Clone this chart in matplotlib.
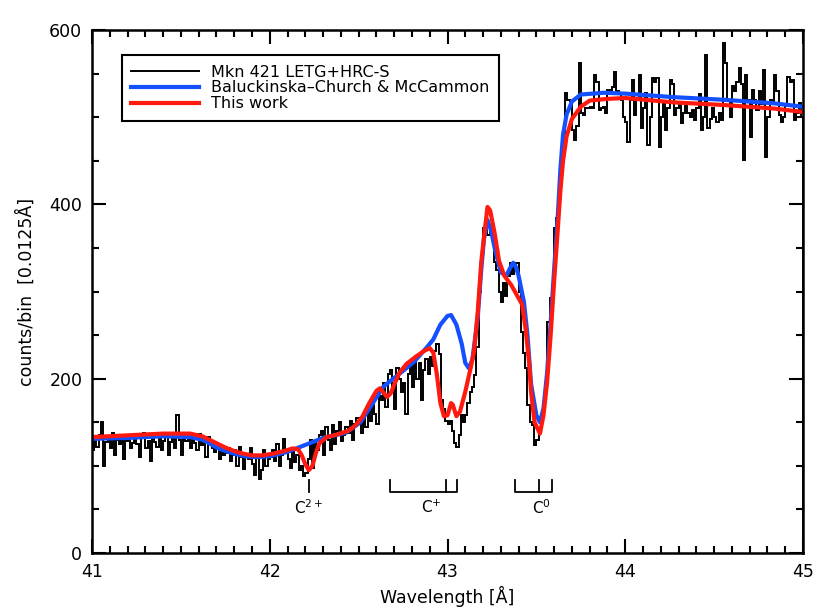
import numpy as np
import matplotlib
matplotlib.use("Agg")
import matplotlib.pyplot as plt
from matplotlib.ticker import MultipleLocator

# ---------------- data ----------------
bin_start = 41.0
bin_width = 0.0125

counts = [
    # 41.00 - 41.25
    118, 128, 122, 135, 150, 100, 127, 132, 120, 138, 112, 130, 125, 135, 108, 128, 133, 120, 126, 131,
    # 41.25 - 41.50
    125, 110, 133, 138, 120, 128, 105, 131, 127, 122, 136, 118, 129, 133, 112, 127, 135, 121, 158, 130,
    # 41.50 - 41.75
    112, 135, 128, 138, 120, 133, 126, 118, 137, 124, 130, 110, 133, 127, 120, 116, 122, 108, 118, 112,
    # 41.75 - 42.00
    115, 120, 105, 112, 118, 100, 122, 110, 96, 114, 108, 120, 102, 90, 112, 85, 95, 118, 100, 108,
    # 42.00 - 42.25
    110, 118, 105, 125, 100, 112, 131, 115, 108, 98, 120, 104, 112, 95, 100, 88, 92, 108, 130, 97,
    # 42.25 - 42.50
    128, 118, 135, 140, 112, 145, 130, 118, 147, 125, 140, 150, 128, 135, 145, 138, 152, 130, 148, 155,
    # 42.50 - 42.75
    150, 138, 160, 145, 165, 152, 170, 160, 148, 180, 175, 195, 168, 205, 210, 190, 165, 212, 200, 185,
    # 42.75 - 43.00
    195, 160, 205, 215, 190, 220, 200, 218, 175, 210, 222, 205, 225, 215, 232, 240, 228, 175, 165, 152,
    # 43.00 - 43.25
    148, 152, 140, 126, 122, 135, 158, 150, 158, 172, 185, 190, 204, 236, 300, 340, 373, 382, 365, 375,
    # 43.25 - 43.50
    362, 334, 325, 300, 288, 310, 295, 318, 333, 320, 330, 333, 300, 253, 230, 212, 170, 150, 147, 124,
    # 43.50 - 43.75
    130, 143, 150, 165, 195, 265, 293, 300, 373, 384, 420, 449, 468, 528, 520, 518, 485, 474, 490, 562,
    # 43.75 - 45.00
    505, 502, 510, 510, 512, 510, 548, 540, 508, 510, 512, 505, 531, 528, 535, 552, 530, 528, 520, 500,
    495, 471, 520, 543, 502, 520, 548, 488, 510, 528, 468, 500, 545, 540, 545, 466, 500, 516, 485, 510,
    543, 538, 502, 510, 516, 493, 505, 513, 505, 500, 508, 497, 510, 527, 485, 500, 571, 488, 498, 510,
    500, 494, 505, 497, 585, 562, 520, 500, 536, 530, 540, 556, 538, 451, 548, 520, 477, 531, 520, 508,
    530, 515, 554, 454, 500, 520, 515, 548, 530, 502, 494, 500, 513, 546, 540, 543, 497, 505, 516, 500,
]

bcm_wave = [41.0, 41.2, 41.4, 41.55, 41.62, 41.66, 41.7, 41.75, 41.8, 41.86, 41.92, 42.0, 42.1,
            42.2, 42.3, 42.43, 42.51, 42.58, 42.64, 42.72, 42.81, 42.88, 42.92, 42.96, 43.0,
            43.02, 43.05, 43.08, 43.1, 43.12, 43.14, 43.17, 43.19, 43.205, 43.225, 43.245,
            43.265, 43.3, 43.33, 43.36, 43.37, 43.385, 43.4, 43.43, 43.45, 43.47, 43.5, 43.52,
            43.54, 43.56, 43.58, 43.6, 43.62, 43.635, 43.65, 43.67, 43.7, 43.75, 43.88, 44.0,
            44.27, 44.55, 44.83, 45.0]
bcm_counts = [131, 132, 134, 133, 130, 126, 121, 117, 114, 111, 110, 111, 116,
              124, 132, 138, 150, 172, 191, 204, 219, 235, 245, 262, 272,
              273, 262, 240, 218, 212, 222, 270, 325, 360, 382, 370,
              350, 322, 318, 330, 333, 328, 318, 288, 250, 194, 158, 150,
              166, 206, 263, 326, 385, 440, 480, 503, 518, 526, 528, 527,
              523, 520, 516, 512]

tw_wave = [41.0, 41.2, 41.4, 41.55, 41.62, 41.66, 41.7, 41.75, 41.8, 41.85, 41.9, 41.96, 42.02,
           42.08, 42.13, 42.16, 42.18, 42.2, 42.22, 42.24, 42.26, 42.28, 42.32, 42.38, 42.44,
           42.48, 42.52, 42.56, 42.6, 42.62, 42.64, 42.66, 42.68, 42.7, 42.73, 42.77, 42.82,
           42.87, 42.9, 42.92, 42.94, 42.96, 42.98, 43.0, 43.02, 43.03, 43.05, 43.07, 43.1,
           43.13, 43.15, 43.17, 43.19, 43.205, 43.225, 43.24, 43.265, 43.29, 43.32, 43.36,
           43.39, 43.42, 43.44, 43.46, 43.47, 43.49, 43.52, 43.54, 43.56, 43.58, 43.6, 43.62,
           43.635, 43.65, 43.67, 43.7, 43.75, 43.8, 43.9, 44.0, 44.27, 44.55, 44.83, 45.0]
tw_counts = [133, 135, 137, 137, 134, 130, 126, 121, 117, 114, 112, 112, 114,
             117, 120, 119, 112, 102, 95, 100, 115, 126, 133, 136, 140,
             146, 156, 172, 186, 189, 184, 179, 183, 193, 207, 217, 225,
             232, 235, 230, 205, 172, 157, 158, 172, 170, 157, 162, 185,
             212, 232, 276, 334, 362, 397, 393, 367, 335, 318, 307,
             296, 285, 256, 217, 185, 150, 137, 158, 195, 249, 312, 370,
             415, 450, 478, 498, 512, 519, 521, 522, 517, 514, 510, 506]

legend_labels = ["Mkn 421 LETG+HRC-S", "Baluckinska\u2013Church & McCammon", "This work"]

# ---------------- figure ----------------
plt.rcParams['font.family'] = ['DejaVu Sans']
fig = plt.figure(figsize=(8.3, 6.12), dpi=100)
ax = fig.add_axes([92 / 830, 1 - 553 / 612, 711 / 830, 523 / 612])

edges = bin_start + bin_width * np.arange(len(counts) + 1)
ax.stairs(counts, edges, color='black', linewidth=1.4, label=legend_labels[0])
ax.plot(bcm_wave, bcm_counts, color='#1450ff', linewidth=3, label=legend_labels[1],
        solid_joinstyle='round')
ax.plot(tw_wave, tw_counts, color='#ff1a10', linewidth=3, label=legend_labels[2],
        solid_joinstyle='round')

ax.set_xlim(41, 45)
ax.set_ylim(0, 600)
ax.xaxis.set_major_locator(MultipleLocator(1))
ax.xaxis.set_minor_locator(MultipleLocator(0.1))
ax.yaxis.set_major_locator(MultipleLocator(200))
ax.yaxis.set_minor_locator(MultipleLocator(50))
ax.tick_params(which='both', direction='in', top=True, right=True, width=1.5,
               labelsize=12.5, pad=7)
ax.tick_params(which='major', length=10)
ax.tick_params(which='minor', length=5)
for s in ax.spines.values():
    s.set_linewidth(1.8)

ax.set_xlabel("Wavelength [\u00c5]", fontsize=12.5, labelpad=4)
ax.set_ylabel("counts/bin  [0.0125\u00c5]", fontsize=12.5, labelpad=10)

# ion markers
kw = dict(color='black', linewidth=1.3)
ax.plot([42.22, 42.22], [70, 84], **kw)
ax.text(42.22, 52, "C$^{2+}$", ha='center', va='center', fontsize=11)
ax.plot([42.677, 42.677, 43.053, 43.053], [84, 70, 70, 84], **kw)
ax.plot([42.99, 42.99], [70, 84], **kw)
ax.text(42.91, 52, "C$^{+}$", ha='center', va='center', fontsize=11)
ax.plot([43.38, 43.38, 43.59, 43.59], [84, 70, 70, 84], **kw)
ax.plot([43.515, 43.515], [70, 84], **kw)
ax.text(43.53, 52, "C$^{0}$", ha='center', va='center', fontsize=11)

leg = ax.legend(loc='upper left', bbox_to_anchor=(0.042, 0.952), fontsize=11.5,
                frameon=True, fancybox=False, edgecolor='black', framealpha=1,
                handlelength=4.2, labelspacing=0.05, borderpad=0.6, handletextpad=0.8,
                borderaxespad=0)
leg.get_frame().set_linewidth(1.5)

fig.savefig("out.png", dpi=100)
